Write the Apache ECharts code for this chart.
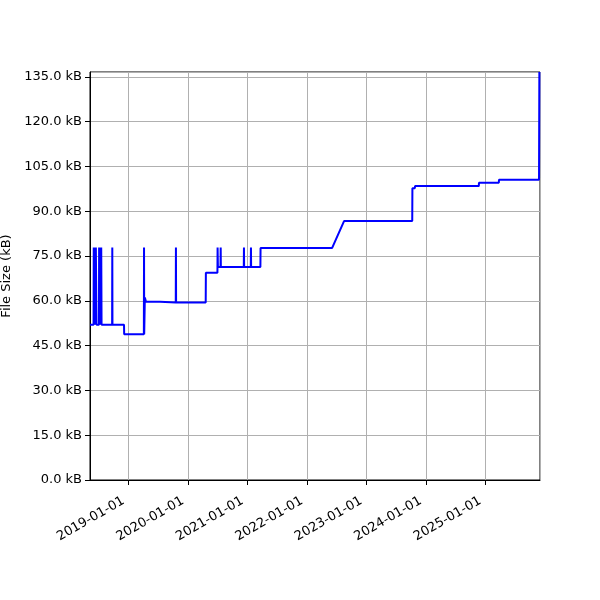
<!DOCTYPE html>
<html>
<head>
<meta charset="utf-8">
<script src="https://cdn.jsdelivr.net/npm/echarts@6/dist/echarts.min.js"></script>
<style>
html, body { margin: 0; padding: 0; background: #fff; }
#chart { width: 600px; height: 600px; }
</style>
</head>
<body>
<div id="chart"></div>
<script>
// file size history (kB), one point per commit
var dates = [
  '2018-05-08', '2018-05-30', '2018-05-31', '2018-06-02', '2018-06-04', '2018-06-06',
  '2018-06-08', '2018-06-10', '2018-06-13', '2018-06-17', '2018-07-02', '2018-07-03',
  '2018-07-06', '2018-07-09', '2018-07-12', '2018-07-16', '2018-07-18', '2018-09-21',
  '2018-09-22', '2018-09-23', '2018-12-03', '2018-12-04', '2019-04-04', '2019-04-05',
  '2019-04-06', '2019-04-09', '2019-04-10', '2019-04-17', '2019-07-12', '2019-07-13',
  '2019-10-17', '2019-10-18', '2019-10-19', '2020-04-18', '2020-04-19', '2020-06-29',
  '2020-06-30', '2020-07-02', '2020-07-18', '2020-07-19', '2020-07-20', '2020-12-08',
  '2020-12-09', '2020-12-10', '2021-01-20', '2021-01-21', '2021-01-22', '2021-03-20',
  '2021-03-21', '2022-06-04', '2022-08-16', '2023-10-09', '2023-10-10', '2023-10-25',
  '2023-10-26', '2024-11-21', '2024-11-22', '2025-03-24', '2025-03-25', '2025-11-26',
  '2025-11-28'
]
var sizes = [
  52.0, 52.0, 77.8, 52.0, 77.8, 52.0,
  77.8, 52.0, 77.8, 52.0, 52.0, 77.8,
  52.0, 77.8, 52.0, 77.8, 52.0, 52.0,
  77.8, 52.0, 52.0, 48.8, 48.8, 77.8,
  48.8, 48.8, 61.1, 59.7, 59.7, 59.4,
  59.4, 77.8, 59.4, 59.4, 69.4, 69.4,
  77.8, 71.3, 71.3, 77.8, 71.3, 71.3,
  77.8, 71.3, 71.3, 77.8, 71.3, 71.3,
  77.7, 77.7, 86.7, 86.7, 97.7, 97.7,
  98.4, 98.4, 99.5, 99.5, 100.5, 100.5,
  136.6
]
var yTicks = [0, 15, 30, 45, 60, 75, 90, 105, 120, 135]
var xMin = '2018-05-08'
var xMax = '2025-12-02'

var points = []
for (var i = 0; i < dates.length; i++) {
  points.push([dates[i], sizes[i]])
}

var chart = echarts.init(document.getElementById('chart'))
var font = 'DejaVu Sans'
chart.setOption({
  animation: false,
  grid: {
    left: 90,
    right: 60,
    top: 72,
    bottom: 120,
    containLabel: false,
    outerBoundsMode: 'none',
    show: true,
    borderColor: '#000',
    borderWidth: 1
  },
  xAxis: {
    type: 'time',
    min: xMin,
    max: xMax,
    minInterval: 365 * 24 * 3600 * 1000,
    maxInterval: 366 * 24 * 3600 * 1000,
    axisLine: { lineStyle: { color: '#000', width: 1 } },
    axisTick: { show: true, length: 5, lineStyle: { color: '#000' } },
    splitLine: { show: true, lineStyle: { color: '#b0b0b0', width: 1 } },
    axisLabel: {
      rotate: 30,
      margin: 17,
      padding: [0, 6, 0, 0],
      color: '#000',
      fontFamily: font,
      fontSize: 13,
      showMinLabel: false,
      showMaxLabel: false,
      formatter: '{yyyy}-{MM}-{dd}'
    }
  },
  yAxis: {
    type: 'value',
    min: 0,
    max: 136.6,
    interval: 15,
    name: 'File Size (kB)',
    nameLocation: 'middle',
    nameGap: 74,
    nameTextStyle: { color: '#000', fontFamily: font, fontSize: 13 },
    axisLine: { show: true, lineStyle: { color: '#000', width: 1 } },
    axisTick: { show: true, length: 5, lineStyle: { color: '#000' } },
    splitLine: { show: true, lineStyle: { color: '#b0b0b0', width: 1 } },
    axisLabel: {
      color: '#000',
      fontFamily: font,
      fontSize: 13,
      showMaxLabel: false,
      formatter: function(v) {
        return yTicks.indexOf(v) >= 0 ? v.toFixed(1) + ' kB' : ''
      }
    }
  },
  series: [{
    type: 'line',
    data: points,
    showSymbol: false,
    symbol: 'none',
    lineStyle: { color: '#0000ff', width: 2 },
    clip: true
  }]
})
</script>
</body>
</html>
